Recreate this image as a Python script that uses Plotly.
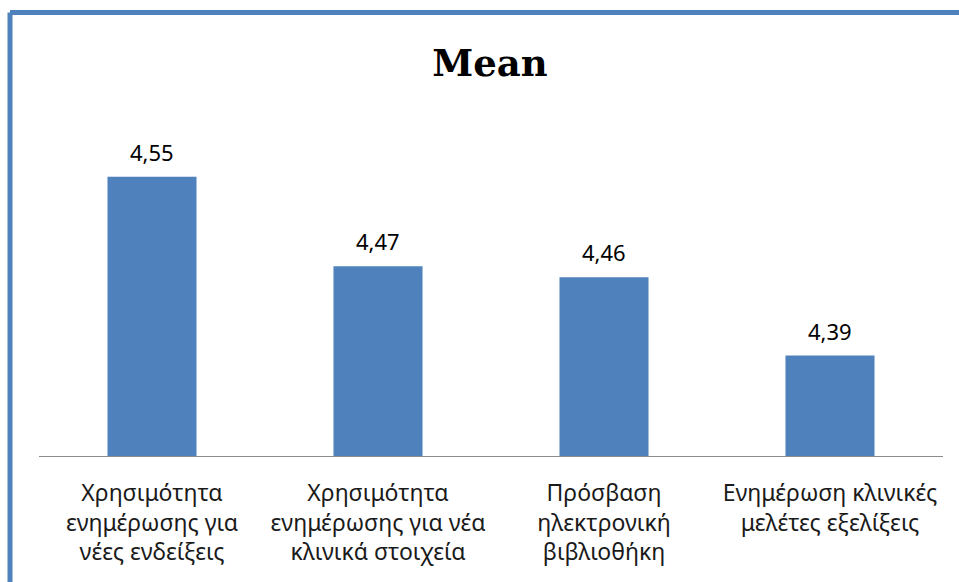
import plotly.graph_objects as go

categories = [
    "Χρησιμότητα<br>ενημέρωσης για<br>νέες ενδείξεις",
    "Χρησιμότητα<br>ενημέρωσης για νέα<br>κλινικά στοιχεία",
    "Πρόσβαση<br>ηλεκτρονική<br>βιβλιοθήκη",
    "Ενημέρωση κλινικές<br>μελέτες εξελίξεις",
]
values = [4.55, 4.47, 4.46, 4.39]
title_text = "Mean"

BLUE = "#4F81BD"
FONT = "Noto Sans"

fig = go.Figure()
fig.add_trace(go.Bar(
    x=categories, y=values, marker=dict(color=BLUE, line=dict(width=0)),
    width=0.394, hoverinfo="skip",
))

for c, v in zip(categories, values):
    fig.add_annotation(
        x=c, y=v, text=f"{v:.2f}".replace(".", ","), showarrow=False,
        yanchor="bottom", yshift=8, font=dict(family=FONT, size=22, color="#000000"),
    )

L, R, T, B = 39, 16, 121, 126
W, H = 959, 582
pw, ph = W - L - R, H - T - B
# border (left and top edges of the chart frame)
bx = (10 - L) / pw
by = (H - B - 12.5) / ph
fig.add_shape(type="line", xref="paper", yref="paper", x0=bx, x1=1.2, y0=by, y1=by,
              line=dict(color=BLUE, width=5))
fig.add_shape(type="line", xref="paper", yref="paper", x0=bx, x1=bx, y0=by, y1=-0.6,
              line=dict(color=BLUE, width=5))

fig.update_layout(
    width=W, height=H,
    margin=dict(l=L, r=R, t=T, b=B),
    paper_bgcolor="white", plot_bgcolor="white",
    showlegend=False,
    title=dict(text=f"<b>{title_text}</b>", x=(490 - L) / pw, xref="paper", xanchor="center",
               y=1 - 63 / H, yanchor="middle",
               font=dict(family="DejaVu Serif", size=37, color="#000000")),
    xaxis=dict(showline=True, linecolor="#8C8C8C", linewidth=1, ticks="",
               tickfont=dict(family=FONT, size=23, color="#1a1a1a"),
               ticklabelstandoff=16,
               showgrid=False, zeroline=False),
    yaxis=dict(range=[4.3, 4.6], visible=False, showgrid=False, zeroline=False),
)

fig.write_html("out.html")
